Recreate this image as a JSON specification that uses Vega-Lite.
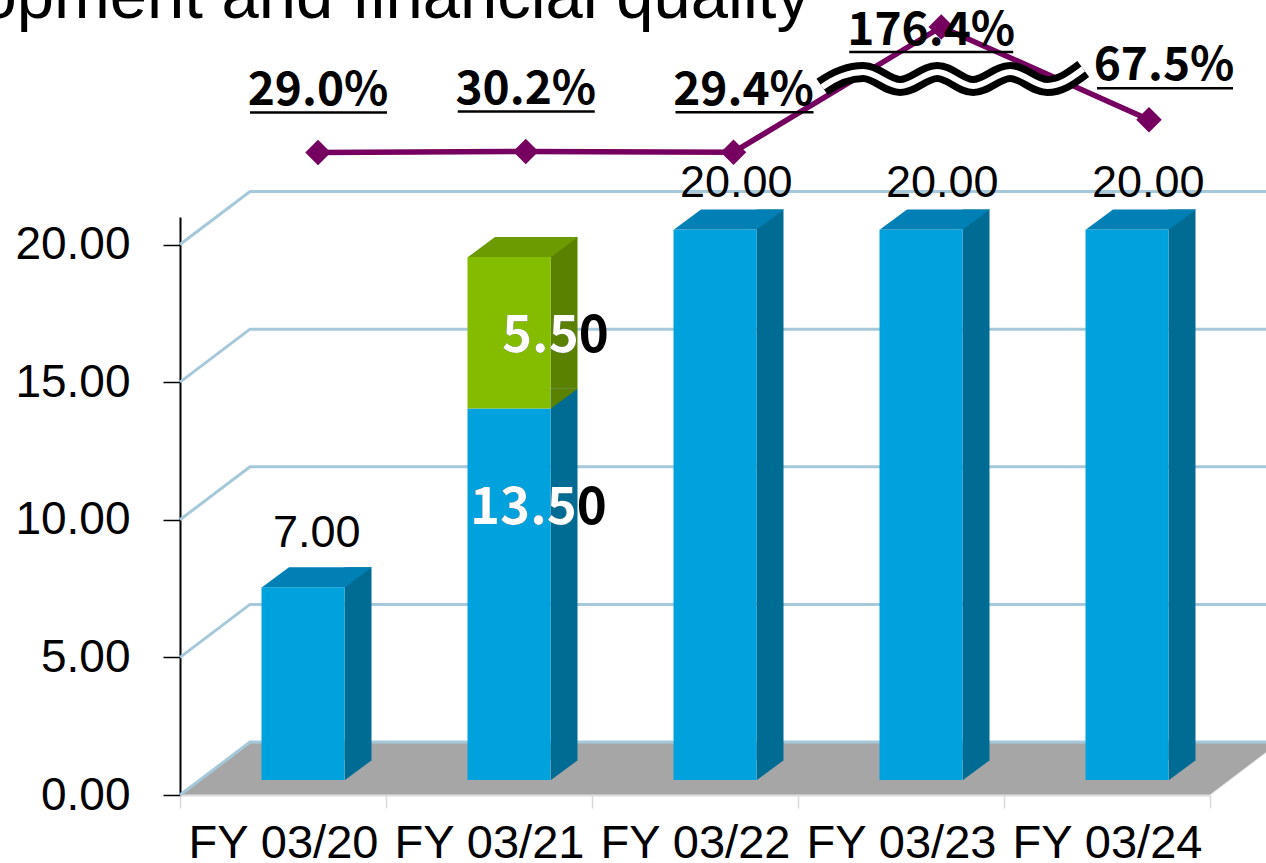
{
  "$schema": "https://vega.github.io/schema/vega-lite/v6.json",
  "width": 1086,
  "height": 578,
  "autosize": "none",
  "padding": {"left": 180, "top": 217, "right": 0, "bottom": 68},
  "background": "white",
  "config": {"view": {"stroke": null}},
  "datasets": {
    "dividends": [
      {"category": "FY 03/20", "series": "Ordinary", "value": 7.0},
      {"category": "FY 03/21", "series": "Ordinary", "value": 13.5},
      {"category": "FY 03/21", "series": "Special", "value": 5.5},
      {"category": "FY 03/22", "series": "Ordinary", "value": 20.0},
      {"category": "FY 03/23", "series": "Ordinary", "value": 20.0},
      {"category": "FY 03/24", "series": "Ordinary", "value": 20.0}
    ],
    "payout": [
      {"category": "FY 03/20", "payout": 0.290},
      {"category": "FY 03/21", "payout": 0.302},
      {"category": "FY 03/22", "payout": 0.294},
      {"category": "FY 03/23", "payout": 1.764},
      {"category": "FY 03/24", "payout": 0.675}
    ]
  },
  "resolve": {"scale": {"x": "independent", "y": "independent"}},
  "layer": [
    {
      "data": {"name": "dividends"},
      "transform": [
        {"stack": "value", "groupby": ["category"], "sort": [{"field": "series", "order": "ascending"}], "as": ["v0", "v1"]},
        {"joinaggregate": [{"op": "max", "field": "v1", "as": "vtop"}], "groupby": ["category"]}
      ],
      "layer": [
        {
          "transform": [{"filter": "datum.category === 'FY 03/20'"}],
          "mark": {"type": "point", "shape": "M0,0 L1030,0 L1100,-53 L70,-53 Z", "size": 4, "filled": true, "fill": "#a6a6a6", "stroke": "#e2e2e2", "strokeWidth": 1, "opacity": 1},
          "encoding": {
            "x": {
              "datum": "FY 03/20", "type": "nominal", "bandPosition": 0,
              "scale": {"type": "band", "domain": ["FY 03/20", "FY 03/21", "FY 03/22", "FY 03/23", "FY 03/24"], "range": [0, 1030], "paddingInner": 0, "paddingOuter": 0},
              "axis": {"title": null, "orient": "bottom", "labelFont": "Liberation Sans", "labelFontSize": 47, "labelColor": "#000000", "labelPadding": 12, "labelAngle": 0, "labelLimit": 0, "labelOverlap": false, "tickSize": 13, "tickColor": "#d9d9d9", "tickWidth": 1.5, "tickBand": "extent", "domainColor": "#d9d9d9", "domainWidth": 2, "grid": false}
            },
            "y": {
              "datum": 0, "type": "quantitative",
              "scale": {"domain": [0, 21], "nice": false, "zero": true},
              "axis": {"title": null, "values": [0, 5, 10, 15, 20], "format": ".2f", "labelFont": "Liberation Sans", "labelFontSize": 46, "labelColor": "#000000", "labelPadding": 33, "labelLimit": 0, "tickSize": 17, "tickColor": "#000000", "tickWidth": 1.5, "domainColor": "#000000", "domainWidth": 2, "grid": false}
            }
          }
        },
        {
          "transform": [{"filter": "datum.category === 'FY 03/20'"}],
          "mark": {"type": "point", "shape": "M0,0 L70,-53 L1120,-53", "size": 4, "filled": false, "stroke": "#a5c9da", "strokeWidth": 3, "opacity": 1},
          "encoding": {"x": {"datum": "FY 03/20", "type": "nominal", "bandPosition": 0}, "y": {"datum": 0, "type": "quantitative"}}
        },
        {
          "transform": [{"filter": "datum.category === 'FY 03/20'"}],
          "mark": {"type": "point", "shape": "M0,0 L70,-53 L1120,-53", "size": 4, "filled": false, "stroke": "#a5c9da", "strokeWidth": 3, "opacity": 1},
          "encoding": {"x": {"datum": "FY 03/20", "type": "nominal", "bandPosition": 0}, "y": {"datum": 5, "type": "quantitative"}}
        },
        {
          "transform": [{"filter": "datum.category === 'FY 03/20'"}],
          "mark": {"type": "point", "shape": "M0,0 L70,-53 L1120,-53", "size": 4, "filled": false, "stroke": "#a5c9da", "strokeWidth": 3, "opacity": 1},
          "encoding": {"x": {"datum": "FY 03/20", "type": "nominal", "bandPosition": 0}, "y": {"datum": 10, "type": "quantitative"}}
        },
        {
          "transform": [{"filter": "datum.category === 'FY 03/20'"}],
          "mark": {"type": "point", "shape": "M0,0 L70,-53 L1120,-53", "size": 4, "filled": false, "stroke": "#a5c9da", "strokeWidth": 3, "opacity": 1},
          "encoding": {"x": {"datum": "FY 03/20", "type": "nominal", "bandPosition": 0}, "y": {"datum": 15, "type": "quantitative"}}
        },
        {
          "transform": [{"filter": "datum.category === 'FY 03/20'"}],
          "mark": {"type": "point", "shape": "M0,0 L70,-53 L1120,-53", "size": 4, "filled": false, "stroke": "#a5c9da", "strokeWidth": 3, "opacity": 1},
          "encoding": {"x": {"datum": "FY 03/20", "type": "nominal", "bandPosition": 0}, "y": {"datum": 20, "type": "quantitative"}}
        },
        {
          "mark": {"type": "bar", "width": 27, "xOffset": 75, "yOffset": -35, "y2Offset": -35},
          "encoding": {
            "x": {"field": "category", "type": "nominal", "title": null},
            "y": {"field": "v1", "type": "quantitative", "title": null},
            "y2": {"field": "v0"},
            "fill": {"condition": {"test": "datum.series === 'Special'", "value": "#5a8200"}, "value": "#006b93"}
          }
        },
        {
          "mark": {"type": "point", "shape": "M62,-35 L62,-15 L89,-35 Z", "size": 4, "filled": true, "opacity": 1, "strokeWidth": 0},
          "encoding": {
            "x": {"field": "category", "type": "nominal", "title": null},
            "y": {"field": "v0", "type": "quantitative", "title": null},
            "fill": {"condition": {"test": "datum.series === 'Special'", "value": "#5a8200"}, "value": "#006b93"}
          }
        },
        {
          "mark": {"type": "bar", "width": 83, "xOffset": 20, "yOffset": -15, "y2Offset": -15},
          "encoding": {
            "x": {"field": "category", "type": "nominal", "title": null},
            "y": {"field": "v1", "type": "quantitative", "title": null},
            "y2": {"field": "v0"},
            "fill": {"condition": {"test": "datum.series === 'Special'", "value": "#84bd00"}, "value": "#00a2de"}
          }
        },
        {
          "transform": [{"filter": "datum.v1 === datum.vtop"}],
          "mark": {"type": "point", "shape": "M-21,-15 L62,-15 L89,-35 L6,-35 Z", "size": 4, "filled": true, "opacity": 1, "strokeWidth": 0},
          "encoding": {
            "x": {"field": "category", "type": "nominal", "title": null},
            "y": {"field": "v1", "type": "quantitative", "title": null},
            "fill": {"condition": {"test": "datum.series === 'Special'", "value": "#6b9b00"}, "value": "#0080b5"}
          }
        },
        {
          "transform": [{"filter": "datum.category === 'FY 03/20'"}],
          "mark": {"type": "text", "align": "left", "baseline": "alphabetic", "dx": -10, "dy": -55, "font": "Liberation Sans", "fontSize": 45, "color": "#000000"},
          "encoding": {
            "x": {"field": "category", "type": "nominal", "title": null},
            "y": {"field": "v1", "type": "quantitative", "title": null},
            "text": {"field": "v1", "type": "quantitative", "format": ".2f"}
          }
        },
        {
          "transform": [{"filter": "datum.category !== 'FY 03/20' && datum.category !== 'FY 03/21'"}],
          "mark": {"type": "text", "align": "left", "baseline": "alphabetic", "dx": -15, "dy": -48, "font": "Liberation Sans", "fontSize": 45, "color": "#000000"},
          "encoding": {
            "x": {"field": "category", "type": "nominal", "title": null},
            "y": {"field": "v1", "type": "quantitative", "title": null},
            "text": {"field": "v1", "type": "quantitative", "format": ".2f"}
          }
        },
        {
          "transform": [{"filter": "datum.category === 'FY 03/21' && datum.series === 'Ordinary'"}],
          "mark": {"type": "text", "align": "left", "baseline": "alphabetic", "dx": -19, "dy": 101, "font": "Noto Sans CJK JP", "fontWeight": "bold", "fontSize": 51, "color": "#000000"},
          "encoding": {
            "x": {"field": "category", "type": "nominal", "title": null},
            "y": {"field": "v1", "type": "quantitative", "title": null},
            "text": {"field": "value", "type": "quantitative", "format": ".2f"}
          }
        },
        {
          "transform": [{"filter": "datum.category === 'FY 03/21' && datum.series === 'Ordinary'"}],
          "mark": {"type": "text", "align": "left", "baseline": "alphabetic", "dx": -19, "dy": 101, "font": "Noto Sans CJK JP", "fontWeight": "bold", "fontSize": 51, "color": "#ffffff"},
          "encoding": {
            "x": {"field": "category", "type": "nominal", "title": null},
            "y": {"field": "v1", "type": "quantitative", "title": null},
            "text": {"field": "value", "type": "quantitative", "format": ".1f"}
          }
        },
        {
          "transform": [{"filter": "datum.series === 'Special'"}],
          "mark": {"type": "text", "align": "left", "baseline": "alphabetic", "dx": 13, "dy": 80, "font": "Noto Sans CJK JP", "fontWeight": "bold", "fontSize": 51, "color": "#000000"},
          "encoding": {
            "x": {"field": "category", "type": "nominal", "title": null},
            "y": {"field": "v1", "type": "quantitative", "title": null},
            "text": {"field": "value", "type": "quantitative", "format": ".2f"}
          }
        },
        {
          "transform": [{"filter": "datum.series === 'Special'"}],
          "mark": {"type": "text", "align": "left", "baseline": "alphabetic", "dx": 13, "dy": 80, "font": "Noto Sans CJK JP", "fontWeight": "bold", "fontSize": 51, "color": "#ffffff"},
          "encoding": {
            "x": {"field": "category", "type": "nominal", "title": null},
            "y": {"field": "v1", "type": "quantitative", "title": null},
            "text": {"field": "value", "type": "quantitative", "format": ".1f"}
          }
        }
      ]
    },
    {
      "data": {"name": "payout"},
      "encoding": {
        "x": {"field": "category", "type": "nominal", "scale": {"type": "point", "domain": ["FY 03/20", "FY 03/21", "FY 03/22", "FY 03/23", "FY 03/24"], "range": [138, 969], "padding": 0}, "axis": null},
        "y": {"field": "payout", "type": "quantitative", "scale": {"domain": [-7.2564, -0.4676], "nice": false, "zero": false}, "axis": null}
      },
      "layer": [
        {
          "transform": [{"filter": "datum.category === 'FY 03/20'"}],
          "mark": {"type": "text", "align": "right", "baseline": "alphabetic", "dx": 492, "dy": -134.5, "font": "Liberation Sans", "fontSize": 67, "color": "#000000"},
          "encoding": {"text": {"value": "development and financial quality"}}
        },
        {"mark": {"type": "line", "stroke": "#76005f", "strokeWidth": 5.5}},
        {
          "transform": [{"filter": "datum.category === 'FY 03/23'"}],
          "mark": {"type": "point", "shape": "M-119,60 C-105,50 -92,45 -78,45 C-65,45 -54,59 -41,59 C-28,59 -17,45 -4,45 C9,45 19,59 32,59 C45,59 56,45 69,45 C82,45 93,59 106,59 C120,59 131,50 142,42", "size": 4, "filled": false, "stroke": "#000000", "strokeWidth": 20, "strokeCap": "butt", "opacity": 1}
        },
        {
          "transform": [{"filter": "datum.category === 'FY 03/23'"}],
          "mark": {"type": "point", "shape": "M-119,60 C-105,50 -92,45 -78,45 C-65,45 -54,59 -41,59 C-28,59 -17,45 -4,45 C9,45 19,59 32,59 C45,59 56,45 69,45 C82,45 93,59 106,59 C120,59 131,50 142,42", "size": 4, "filled": false, "stroke": "#ffffff", "strokeWidth": 6, "strokeCap": "butt", "opacity": 1}
        },
        {"mark": {"type": "point", "shape": "diamond", "size": 650, "filled": true, "fill": "#76005f", "strokeWidth": 0, "opacity": 1}},
        {
          "transform": [{"filter": "datum.category === 'FY 03/20' || datum.category === 'FY 03/21'"}],
          "mark": {"type": "text", "align": "center", "baseline": "alphabetic", "dx": 0, "dy": -47, "font": "Noto Sans CJK JP", "fontWeight": "bold", "fontSize": 46, "color": "#000000"},
          "encoding": {"text": {"field": "payout", "type": "quantitative", "format": ".1%"}}
        },
        {
          "transform": [{"filter": "datum.category === 'FY 03/22'"}],
          "mark": {"type": "text", "align": "center", "baseline": "alphabetic", "dx": 10, "dy": -47, "font": "Noto Sans CJK JP", "fontWeight": "bold", "fontSize": 46, "color": "#000000"},
          "encoding": {"text": {"field": "payout", "type": "quantitative", "format": ".1%"}}
        },
        {
          "transform": [{"filter": "datum.category === 'FY 03/23'"}],
          "mark": {"type": "text", "align": "center", "baseline": "alphabetic", "dx": -10, "dy": 18, "font": "Noto Sans CJK JP", "fontWeight": "bold", "fontSize": 46, "color": "#000000"},
          "encoding": {"text": {"field": "payout", "type": "quantitative", "format": ".1%"}}
        },
        {
          "transform": [{"filter": "datum.category === 'FY 03/24'"}],
          "mark": {"type": "text", "align": "center", "baseline": "alphabetic", "dx": 15, "dy": -40, "font": "Noto Sans CJK JP", "fontWeight": "bold", "fontSize": 46, "color": "#000000"},
          "encoding": {"text": {"field": "payout", "type": "quantitative", "format": ".1%"}}
        },
        {
          "transform": [{"filter": "datum.category === 'FY 03/20' || datum.category === 'FY 03/21'"}],
          "mark": {"type": "rule", "stroke": "#000000", "strokeWidth": 2.5, "xOffset": -68, "x2Offset": 69, "yOffset": -40, "y2Offset": -40},
          "encoding": {"x2": {"field": "category"}, "y2": {"field": "payout"}}
        },
        {
          "transform": [{"filter": "datum.category === 'FY 03/22'"}],
          "mark": {"type": "rule", "stroke": "#000000", "strokeWidth": 2.5, "xOffset": -58, "x2Offset": 80, "yOffset": -40, "y2Offset": -40},
          "encoding": {"x2": {"field": "category"}, "y2": {"field": "payout"}}
        },
        {
          "transform": [{"filter": "datum.category === 'FY 03/23'"}],
          "mark": {"type": "rule", "stroke": "#000000", "strokeWidth": 2.5, "xOffset": -92, "x2Offset": 72, "yOffset": 25, "y2Offset": 25},
          "encoding": {"x2": {"field": "category"}, "y2": {"field": "payout"}}
        },
        {
          "transform": [{"filter": "datum.category === 'FY 03/24'"}],
          "mark": {"type": "rule", "stroke": "#000000", "strokeWidth": 2.5, "xOffset": -52, "x2Offset": 84, "yOffset": -31.5, "y2Offset": -31.5},
          "encoding": {"x2": {"field": "category"}, "y2": {"field": "payout"}}
        }
      ]
    }
  ]
}
